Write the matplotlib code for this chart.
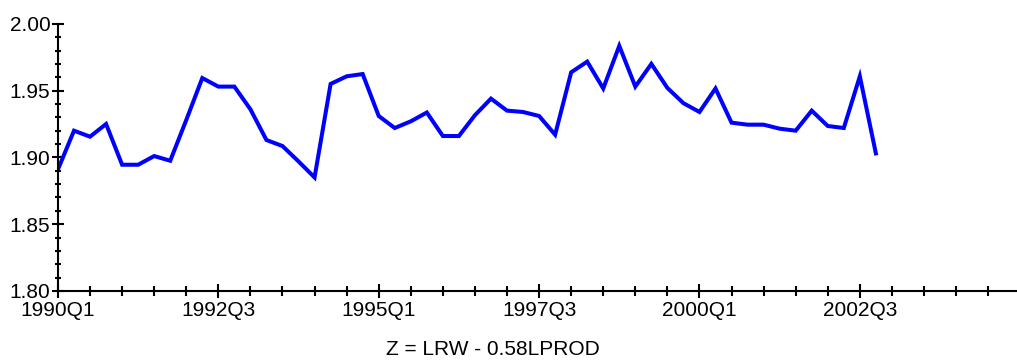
"""Quarterly series Z = LRW - 0.58LPROD, 1990Q1-2002Q4."""

import matplotlib
matplotlib.use("Agg")
import matplotlib.pyplot as plt
from matplotlib.ticker import MultipleLocator, FixedLocator

plt.rcParams["font.family"] = ["Liberation Sans", "DejaVu Sans"]

# quarterly values, starting 1990Q1
z_values = [
    1.891, 1.920, 1.9155, 1.925, 1.8945, 1.8945, 1.901, 1.8975, 1.928, 1.9594,
    1.953, 1.953, 1.936, 1.913, 1.9085, 1.897, 1.885, 1.955, 1.9607, 1.9624,
    1.931, 1.922, 1.927, 1.9336, 1.916, 1.916, 1.9316, 1.944, 1.935, 1.934,
    1.931, 1.917, 1.9637, 1.9717, 1.9516, 1.9835, 1.953, 1.970, 1.952, 1.9406,
    1.934, 1.9516, 1.926, 1.9245, 1.9245, 1.9215, 1.920, 1.935, 1.9235, 1.922,
    1.9607, 1.903,
]
tick_labels = ["1990Q1", "1992Q3", "1995Q1", "1997Q3", "2000Q1", "2002Q3"]
y_ticks = [1.80, 1.85, 1.90, 1.95, 2.00]

quarters = list(range(len(z_values)))

fig = plt.figure(figsize=(10.17, 3.61), dpi=100, facecolor="white")
ax = fig.add_axes([0.057, 0.194, 0.943, 0.740])

ax.plot(quarters, z_values, color="#0000FF", linewidth=2.9, solid_joinstyle="miter")

ax.set_xlim(0, 59.8)
ax.set_ylim(1.80, 2.00)

ax.xaxis.set_major_locator(FixedLocator([10 * i for i in range(len(tick_labels))]))
ax.set_xticklabels(tick_labels)
ax.xaxis.set_minor_locator(MultipleLocator(2))
ax.set_yticks(y_ticks)
ax.set_yticklabels([f"{v:.2f}" for v in y_ticks])
ax.yaxis.set_minor_locator(MultipleLocator(0.01))

for side in ("top", "right"):
    ax.spines[side].set_visible(False)
for side in ("left", "bottom"):
    ax.spines[side].set_linewidth(1.5)
    ax.spines[side].set_color("black")

ax.tick_params(axis="both", which="major", direction="inout", length=9,
               width=1.5, labelsize=15, colors="black")
ax.tick_params(axis="x", which="minor", direction="inout", length=6.5, width=1.5)
ax.tick_params(axis="y", which="minor", direction="inout", length=5, width=1.5)
ax.tick_params(axis="x", which="major", length=10, pad=2)
ax.tick_params(axis="y", which="major", pad=1)

fig.text(0.485, 0.033, "Z = LRW - 0.58LPROD", fontsize=15, ha="center", va="center")

fig.savefig("out.png", dpi=100, facecolor="white")
